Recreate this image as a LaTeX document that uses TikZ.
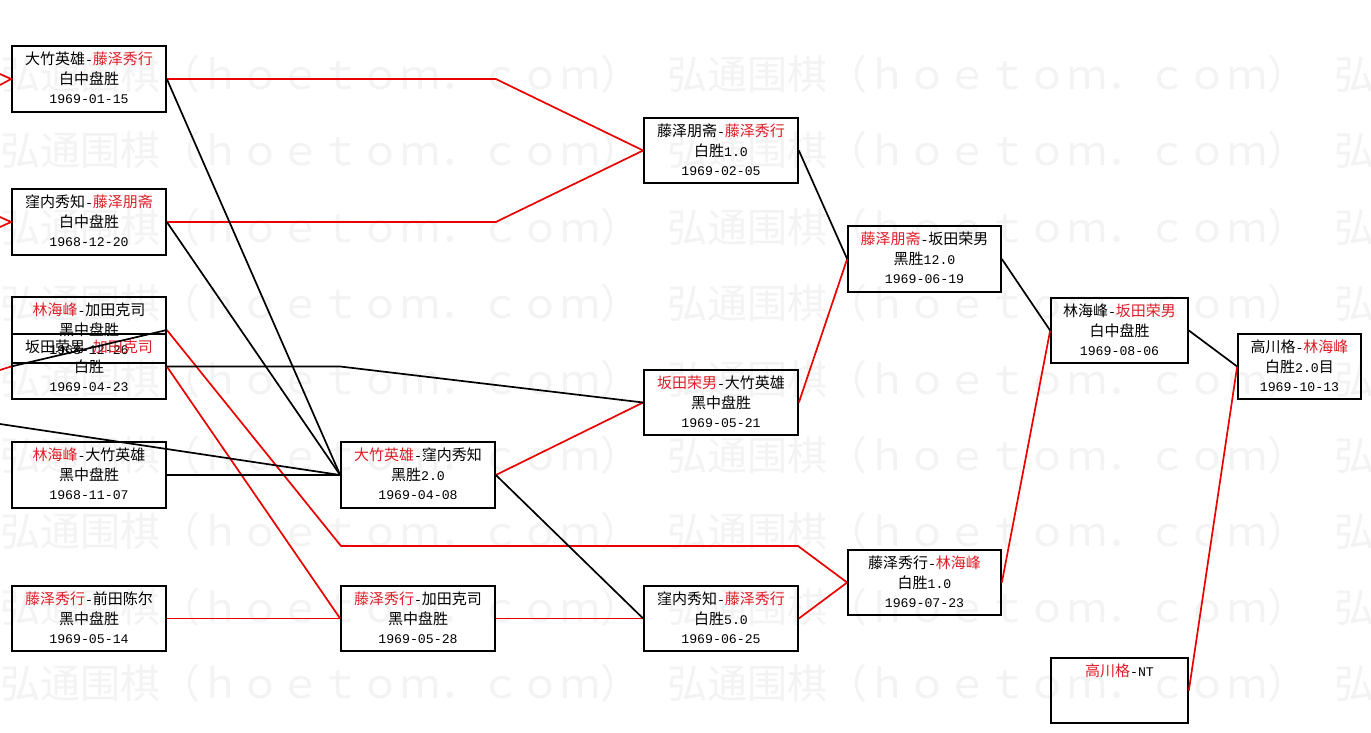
\documentclass[tikz,border=0pt]{standalone}
\usepackage{fontspec}
\setmainfont[Scale=0.88]{Liberation Mono}
\newfontfamily\zhf{Noto Sans CJK SC}
\definecolor{wred}{RGB}{222,30,40}
\definecolor{lred}{RGB}{235,0,0}
\definecolor{wm}{RGB}{243,243,243}
\newcommand{\zh}[1]{{\zhf #1}}
\newcommand{\rz}[1]{{\zhf\color{wred}#1}}
\tikzset{
  box/.style={draw=black, line width=1.7pt, rectangle, inner sep=0pt},
  gtext/.style={anchor=base, inner sep=0pt, font=\fontsize{15}{18}\selectfont},
  win/.style={draw=lred, line width=1.7pt},
  lose/.style={draw=black, line width=1.7pt},
  wmark/.style={anchor=base west, inner sep=0pt, text=wm, font=\zhf\fontsize{40}{44}\selectfont}
}
% name, cx, cy, w, h, line1, line2, line3
\newcommand{\game}[8]{%
  \node[box, minimum width=#4pt, minimum height=#5pt] (#1) at (#2,#3) {};
  \node[gtext] at ([yshift=-19.5pt]#1.north) {#6};
  \node[gtext] at ([yshift=-39pt]#1.north) {#7};
  \node[gtext] at ([yshift=-58.5pt]#1.north) {#8};
}
\begin{document}
\begin{tikzpicture}[x=1pt,y=-1pt]
\fill[white] (0,0) rectangle (1371,733);
\useasboundingbox (0,0) rectangle (1371,733);
% watermark
\foreach \r in {75,151,227,303,379,455,531,607,683}{
  \foreach \c in {0,667,1334}{
    \node[wmark] at (\c,\r+15) {弘通围棋（ｈｏｅｔｏｍ．ｃｏｍ）};
  }
}
% boxes
\game{A}{89}{79}{154}{66}{\zh{大竹英雄}-\rz{藤泽秀行}}{\zh{白中盘胜}}{1969-01-15}
\game{B}{89}{222}{154}{66}{\zh{窪内秀知}-\rz{藤泽朋斋}}{\zh{白中盘胜}}{1968-12-20}
\game{C}{89}{330}{154}{66}{\rz{林海峰}-\zh{加田克司}}{\zh{黑中盘胜}}{1968-12-26}
\game{D}{89}{366.5}{154}{65}{\zh{坂田荣男}-\rz{加田克司}}{\zh{白胜}}{1969-04-23}
\game{E}{89}{475}{154}{66}{\rz{林海峰}-\zh{大竹英雄}}{\zh{黑中盘胜}}{1968-11-07}
\game{F}{89}{618.5}{154}{65}{\rz{藤泽秀行}-\zh{前田陈尔}}{\zh{黑中盘胜}}{1969-05-14}
\game{G}{418}{475}{154}{66}{\rz{大竹英雄}-\zh{窪内秀知}}{\zh{黑胜}2.0}{1969-04-08}
\game{H}{418}{618.5}{154}{65}{\rz{藤泽秀行}-\zh{加田克司}}{\zh{黑中盘胜}}{1969-05-28}
\game{I}{721}{150.5}{154}{65}{\zh{藤泽朋斋}-\rz{藤泽秀行}}{\zh{白胜}1.0}{1969-02-05}
\game{J}{721}{402.5}{154}{65}{\rz{坂田荣男}-\zh{大竹英雄}}{\zh{黑中盘胜}}{1969-05-21}
\game{K}{721}{618.5}{154}{65}{\zh{窪内秀知}-\rz{藤泽秀行}}{\zh{白胜}5.0}{1969-06-25}
\game{L}{924.5}{259}{153}{66}{\rz{藤泽朋斋}-\zh{坂田荣男}}{\zh{黑胜}12.0}{1969-06-19}
\game{M}{924.5}{582.5}{153}{65}{\zh{藤泽秀行}-\rz{林海峰}}{\zh{白胜}1.0}{1969-07-23}
\game{N}{1119.5}{330.5}{137}{65}{\zh{林海峰}-\rz{坂田荣男}}{\zh{白中盘胜}}{1969-08-06}
\game{O}{1299.5}{366.5}{123}{65}{\zh{高川格}-\rz{林海峰}}{\zh{白胜}2.0\zh{目}}{1969-10-13}
\game{P}{1119.5}{690.5}{137}{65}{\rz{高川格}-NT}{}{}
\node[box, line width=2.5pt, minimum width=154pt, minimum height=66pt] at (B) {};
\node[box, line width=2.1pt, minimum width=154pt, minimum height=66pt] at (C) {};
\node[box, line width=2.1pt, minimum width=154pt, minimum height=65pt] at (D) {};
% free ends and bends
\coordinate (la1) at (0,74);
\coordinate (la2) at (0,85);
\coordinate (lb1) at (0,217);
\coordinate (lb2) at (0,227);
\coordinate (ld) at (0,370);
\coordinate (lg) at (0,424);
\coordinate (c1) at (341,546);
\coordinate (c2) at (798,546);
% winner paths (red)
\draw[win] (la1) -- (A.west) -- (la2);
\draw[win] (lb1) -- (B.west) -- (lb2);
\draw[win] (ld) -- (D.west);
\draw[win] (A.east) -- (A.east -| G.east) -- (I.west);
\draw[win] (B.east) -- (B.east -| G.east) -- (I.west);
\draw[win] (C.east) -- (c1) -- (c2) -- (M.west);
\draw[win] (D.east) -- (H.west);
\draw[win] (F.east) -- (H.west);
\draw[win] (G.east) -- (J.west);
\draw[win] (H.east) -- (K.west);
\draw[win] (J.east) -- (L.west);
\draw[win] (K.east) -- (M.west);
\draw[win] (M.east) -- (N.west);
\draw[win] (P.east) -- (O.west);
% loser paths (black)
\draw[lose] (A.east) -- (G.west);
\draw[lose] (B.east) -- (G.west);
\draw[lose] (C.east) -- (D.west);
\draw[lose] (D.east) -- (D.east -| G.west) -- (J.west);
\draw[lose] (lg) -- (G.west);
\draw[lose] (E.east) -- (G.west);
\draw[lose] (G.east) -- (K.west);
\draw[lose] (I.east) -- (L.west);
\draw[lose] (L.east) -- (N.west);
\draw[lose] (N.east) -- (O.west);
\end{tikzpicture}
\end{document}
